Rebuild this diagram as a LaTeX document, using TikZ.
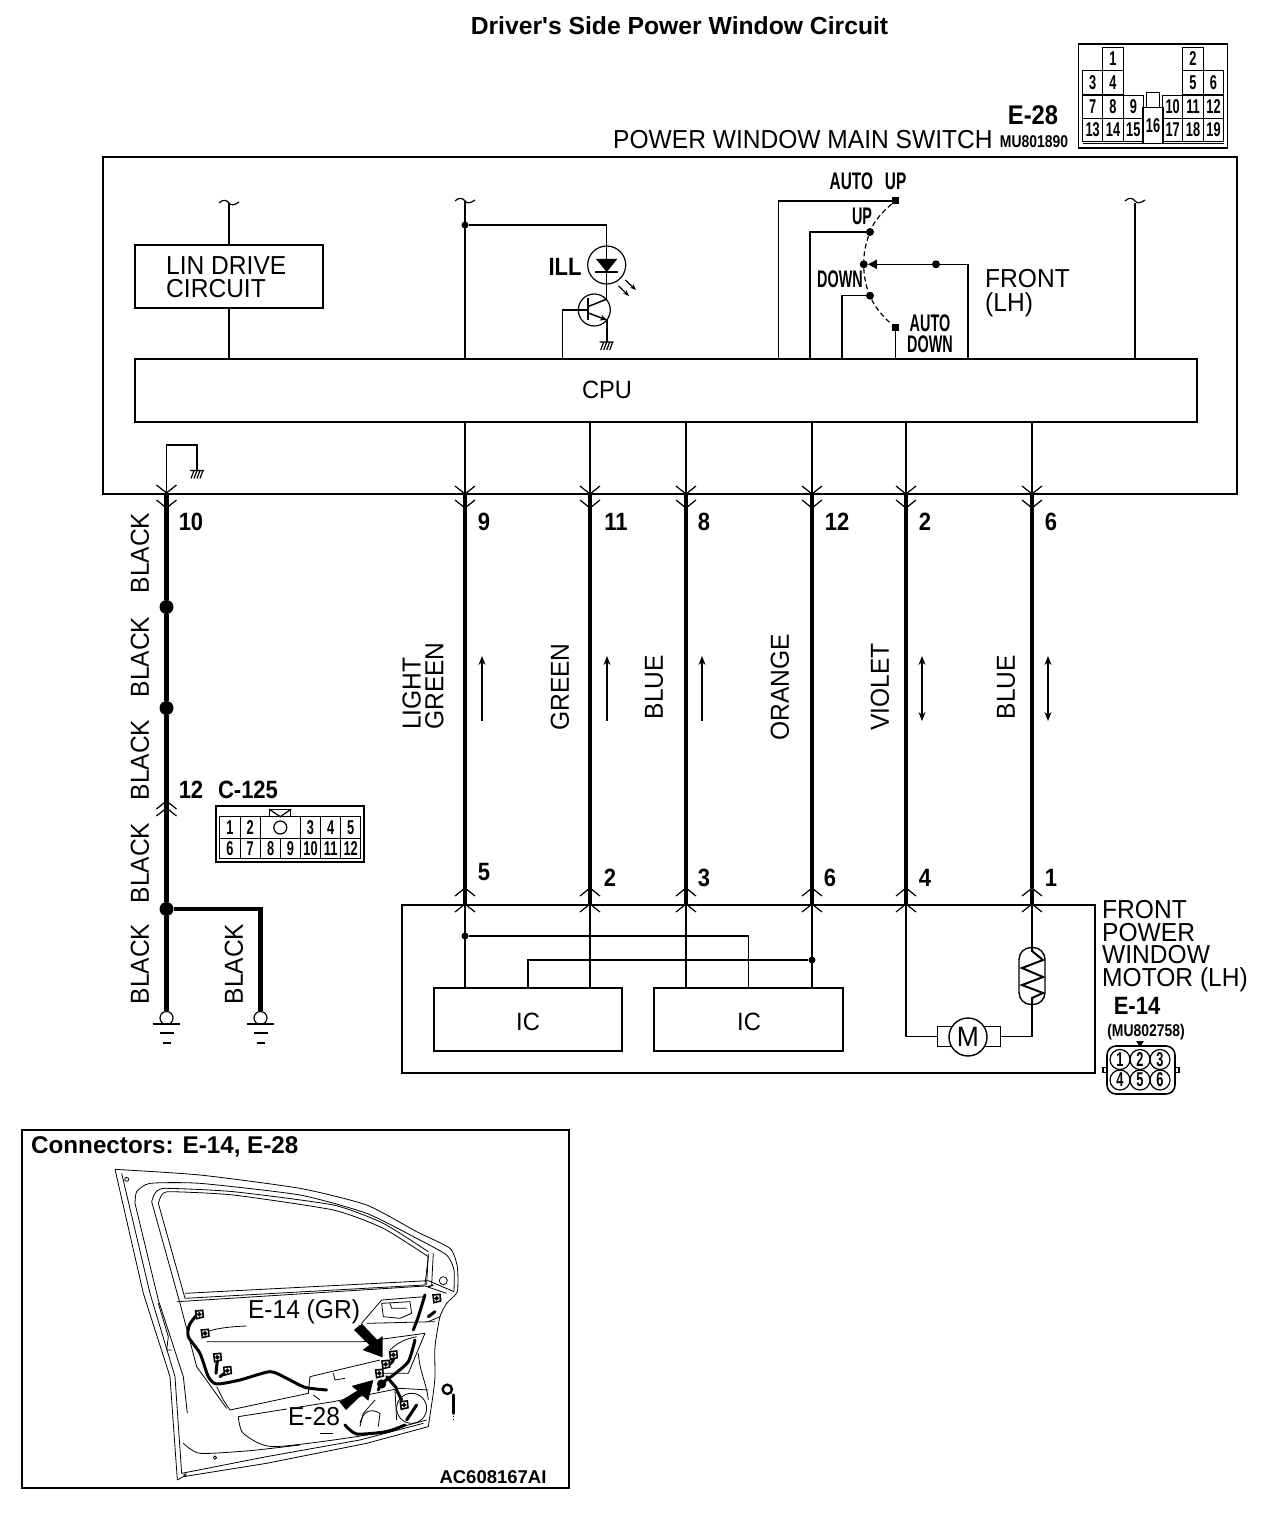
\documentclass[tikz,border=0pt]{standalone}
\usepackage{fontspec}
\usetikzlibrary{arrows.meta,calc}
\setmainfont[FakeStretch=.945]{Liberation Sans}
\newfontfamily\plainbold{Liberation Sans}
\newfontfamily\nb[FakeStretch=.88]{Liberation Sans}
\newfontfamily\nc[FakeStretch=.64]{Liberation Sans}
\newfontfamily\narrowctl[FakeStretch=.6]{Liberation Sans}
\newfontfamily\nd[FakeStretch=.82]{Liberation Sans}
\newcommand{\sz}[1]{\fontsize{#1}{#1}\selectfont}
\tikzset{
 x=1pt,y=-1pt,
 wire/.style={line width=1.5pt},
 hair/.style={line width=1.2pt},
 boxline/.style={line width=2pt},
 heavy/.style={line width=4.6pt},
 box/.style={draw,line width=1.6pt,rectangle,inner sep=0pt},
 lab/.style={inner sep=0pt,font=\sz{26}},
 stack/.style={inner sep=0pt,align=left,font=\fontsize{26}{22.7}\selectfont},
 vlab/.style={lab,rotate=90},
 num/.style={inner sep=0pt,font=\nb\bfseries\sz{25}},
 ctl/.style={inner sep=0pt,font=\narrowctl\bfseries\sz{24}},
 dot/.style={circle,fill=black,inner sep=0pt,minimum size=#1},
 dot/.default=8pt,
 sq/.style={rectangle,fill=black,inner sep=0pt,minimum size=7pt},
 pin/.style={draw,line width=1.2pt,rectangle,inner sep=0pt,font=\nc\bfseries\sz{20}},
 spin/.style={draw,line width=1.2pt,circle,inner sep=0pt,minimum size=20pt,font=\nc\bfseries\sz{20}},
 door/.style={line width=.8pt,line join=round},
 harness/.style={line width=3pt,line cap=round,line join=round},
 updn/.style={line width=1.3pt,{Stealth[length=9pt,width=7pt]}-{Stealth[length=9pt,width=7pt]}},
 upa/.style={line width=1.3pt,-{Stealth[length=9pt,width=7pt]}},
}
\newcommand{\chevD}[2]{\draw[hair] (#1-10,#2-8) -- (#1,#2) -- (#1+10,#2-8);}
\newcommand{\chevU}[2]{\draw[hair] (#1-10,#2+8) -- (#1,#2) -- (#1+10,#2+8);}
\newcommand{\tildeat}[2]{\draw[hair] (#1-10,#2) .. controls (#1-6,#2-4) and (#1-2,#2-3) .. (#1,#2) .. controls (#1+2,#2+3) and (#1+6,#2+2) .. (#1+10,#2-1);}
\newcommand{\hatch}[2]{\draw[hair] (#1-7,#2) -- (#1+7,#2) (#1-3,#2) -- (#1-6,#2+8) (#1,#2) -- (#1-3,#2+8) (#1+3,#2) -- (#1,#2+8) (#1+6,#2) -- (#1+3,#2+8);}
\newcommand{\earth}[1]{\draw[wire] ($(#1)+(-13.5,6)$) -- ($(#1)+(13.5,6)$);
 \draw[boxline] ($(#1)+(-7,15)$) -- ($(#1)+(7,15)$) ($(#1)+(-4,25)$) -- ($(#1)+(4,25)$);}
\begin{document}
\begin{tikzpicture}
\useasboundingbox (0,0) rectangle (1280,1514);
\fill[white] (0,0) rectangle (1280,1514);

% ---------- titles
\node[inner sep=0pt,font=\plainbold\bfseries\sz{24.7}] (title) at (679.5,26) {Driver's Side Power Window Circuit};
\node[inner sep=0pt,font=\nb\bfseries\sz{27}] (e28) at (1033,115) {E-28};
\node[lab,anchor=west] (mainsw) at (613,140) {POWER WINDOW MAIN SWITCH};
\node[inner sep=0pt,font=\nd\bfseries\sz{17}] (mu1) at (1034,142) {MU801890};

% ---------- E-28 connector
\node[draw,line width=1.6pt,minimum width=149pt,minimum height=104pt,inner sep=0pt] (e28box) at (1152.8,96.3) {};
\foreach \t/\x/\y in {1/1113/59,2/1193/59,3/1092.7/82.5,4/1113/82.5,5/1193/82.5,6/1213.5/82.5,
  7/1092.7/107,8/1113/107,9/1133.3/107,10/1172.7/107,11/1193/107,12/1213.5/107,
  13/1092.7/130,14/1113/130,15/1133.3/130,17/1172.7/130,18/1193/130,19/1213.5/130}
  \node[pin,minimum width=20.3pt,minimum height=23.5pt] (ep\t) at (\x,\y) {\t};
\node[pin,minimum width=20pt,minimum height=36pt] (ep16) at (1153,125.5) {16};
\node[draw,line width=1.1pt,minimum width=13pt,minimum height=15pt,inner sep=0pt] (epkey) at (1153,100) {};
\draw[hair] (1082.5,143.5) -- (1224,143.5);

% ---------- main box
\node[draw,line width=2pt,minimum width=1134pt,minimum height=337pt,inner sep=0pt] (mainbox) at (670,325.5) {};
\node[box,minimum width=1062pt,minimum height=63pt] (cpu) at (666,390.5) {};
\node[lab,font=\sz{25}] (cpulab) at (607,390) {CPU};
\node[box,minimum width=188pt,minimum height=63pt] (lin) at (229,276.5) {};
\node[stack,anchor=west] (linlab) at (166,277) {LIN DRIVE\\CIRCUIT};

% internal feeds with breaks
\coordinate (f229) at (229,203);
\coordinate (f465) at (465,201);
\coordinate (f1135) at (1135,203);
\tildeat{229}{203}\tildeat{465}{201}\tildeat{1135}{201}
\draw[hair] (f229) -- (lin.north);
\draw[wire] (lin.south) -- (229,359);
\draw[wire] (f465) -- (f465 |- cpu.north);
\draw[hair] (f1135) -- (f1135 |- cpu.north);

% ILL lamp + transistor
\node[dot=7pt] (j465) at (465,225) {};
\node[draw,line width=1.2pt,circle,minimum size=38pt,inner sep=0pt] (led) at (606.7,265) {};
\node[draw,line width=1.2pt,circle,minimum size=32pt,inner sep=0pt] (tr) at (594.3,310) {};
\node[lab,font=\nb\bfseries\sz{25}] (ill) at (565,267) {ILL};
\draw[wire] (j465) -| (led.north);
\draw[wire] (led.north) -- (606.7,299);
\fill (596,259) -- (617.3,259) -- (606.7,272) -- cycle;
\draw[wire] (595,272) -- (618,272);
\draw[line width=2pt] (588.3,298) -- (588.3,320);
\coordinate (bas) at (588.3,310);
\coordinate (tcpu) at (562.3,359);
\draw[wire] (bas) -| (tcpu);
\draw[wire] (588.3,306.5) -- (607,299);
\draw[wire,-{Stealth[length=7pt,width=6pt]}] (588.3,313) -- (607,320);
\draw[wire] (607,320) -- (607,342);
\hatch{606.7}{342}
\draw[hair,-{Stealth[length=6pt,width=4.5pt]}] (618.3,285.7) -- (629,296);
\draw[hair,-{Stealth[length=6pt,width=4.5pt]}] (625.3,280) -- (636,290);

% Switch
\node[inner sep=0pt,font=\nc\bfseries\sz{24}] (lautoup) at (868,181) {AUTO\,\,\,UP};
\node[ctl] (lup) at (862,216) {UP};
\node[ctl] (ldown) at (840,279) {DOWN};
\node[ctl] (lad1) at (930,323) {AUTO};
\node[ctl] (lad2) at (930,344) {DOWN};
\node[sq] (cAU) at (895.3,201) {};
\node[dot] (cUp) at (870,232) {};
\node[dot] (cCom) at (863.7,264.3) {};
\node[dot] (cDn) at (870,295.7) {};
\node[sq] (cAD) at (895.3,327) {};
\node[dot] (cMid) at (936,264.3) {};
\coordinate (sw1) at (778.5,359);
\coordinate (sw2) at (810,359);
\coordinate (sw3) at (842,359);
\coordinate (sw4) at (895.3,359);
\coordinate (sw5) at (968,359);
\draw[wire] (cAU) -| (sw1);
\draw[wire] (cUp) -| (sw2);
\draw[wire] (cDn) -| (sw3);
\draw[wire] (cAD) -- (sw4);
\draw[wire,-{Triangle[length=9pt,width=9pt]}] (sw5) |- (cCom);
\draw[hair,dash pattern=on 5pt off 3pt] (cAU) .. controls (882,212) and (874,222) .. (cUp) .. controls (866,243) and (864,252) .. (cCom) .. controls (864,276) and (866,286) .. (cDn) .. controls (875,307) and (884,318) .. (cAD);
\node[stack,anchor=west,font=\fontsize{26}{24}\selectfont] (frontlab) at (985,293) {FRONT\\(LH)};

% ---------- main harness pins
\foreach \n/\x in {a/465,b/590,c/686,d/812,e/906,f/1032}{
  \coordinate (t\n) at (\x,494);
  \coordinate (u\n) at (\x,905);
  \draw[heavy] (t\n) -- (u\n);
  \draw[wire] (t\n |- cpu.south) -- (t\n);
  \chevD{\x}{494}\chevD{\x}{508}
  \chevU{\x}{888}\chevU{\x}{904}
}
\foreach \t/\x/\y/\k in {9/484/522/a,11/616/522/b,8/704/522/c,12/837/522/d,2/925/522/e,6/1051/522/f,
  5/484/872/g,2/610/878/h,3/704/878/i,6/830/878/j,4/925/878/k,1/1051/878/l,10/191/522/m,12/191/790/n}
  \node[num] (n\k) at (\x,\y) {\t};

% wire colour labels
\node[stack,rotate=90,anchor=west] (wl1) at (423,730) {LIGHT\\GREEN};
\node[vlab] (wl3) at (560,687) {GREEN};
\node[vlab] (wl4) at (654,687) {BLUE};
\node[vlab] (wl5) at (780,687) {ORANGE};
\node[vlab] (wl6) at (880,687) {VIOLET};
\node[vlab] (wl7) at (1006,687) {BLUE};

% signal direction arrows
\coordinate (d1a) at (482,721); \coordinate (d1b) at (482,656);
\coordinate (d2a) at (607,721); \coordinate (d2b) at (607,656);
\coordinate (d3a) at (702,721); \coordinate (d3b) at (702,656);
\coordinate (d4a) at (922,721); \coordinate (d4b) at (922,656);
\coordinate (d5a) at (1048,721); \coordinate (d5b) at (1048,656);
\draw[upa] (d1a) -- (d1b);
\draw[upa] (d2a) -- (d2b);
\draw[upa] (d3a) -- (d3b);
\draw[updn] (d4a) -- (d4b);
\draw[updn] (d5a) -- (d5b);

% ---------- ground branch on the left
\coordinate (g0) at (166.5,494);
\coordinate (gtop) at (166.5,445);
\coordinate (ghat) at (197,470);
\draw[wire] (g0) -- (gtop) -| (ghat);
\hatch{197}{470.5}
\chevD{166.5}{493}\chevD{166.5}{508}
\node[dot=14pt] (s1) at (166.5,607) {};
\node[dot=14pt] (s2) at (166.5,708) {};
\node[dot=14pt] (s3) at (166.5,909) {};
\node[draw,line width=1.2pt,circle,fill=white,minimum size=13pt,inner sep=0pt] (gc1) at (166.5,1018) {};
\node[draw,line width=1.2pt,circle,fill=white,minimum size=13pt,inner sep=0pt] (gc2) at (260.5,1018) {};
\draw[heavy] (g0) -- (s1);
\draw[heavy] (s1) -- (s2);
\draw[heavy] (s2) -- (s3);
\draw[heavy] (s3) -- (gc1);
\draw[heavy,line join=miter] (s3) -| (gc2);
\earth{gc1}\earth{gc2}
\foreach \k/\y in {1/553,2/657,3/760,4/863,5/964}
  \node[vlab] (bk\k) at (140,\y) {BLACK};
\node[vlab] (bk6) at (234,964) {BLACK};
\chevU{166.5}{801}\chevU{166.5}{808}

% C-125
\node[inner sep=0pt,font=\nb\bfseries\sz{25}] (c125) at (248,790) {C-125};
\node[draw,line width=1.8pt,minimum width=148.5pt,minimum height=56.5pt,inner sep=0pt] (cbox) at (290,834) {};
\foreach \t/\x in {1/230,2/250.3,3/310.5,4/330.7,5/350.7}
  \node[pin,minimum width=20.3pt,minimum height=21.6pt] (cp\t) at (\x,827.5) {\t};
\foreach \t/\x in {6/230,7/250.3,8/270.7,9/290.5,10/310.5,11/330.7,12/350.7}
  \node[pin,minimum width=20.3pt,minimum height=20pt] (cq\t) at (\x,848.3) {\t};
\node[draw,line width=1.2pt,minimum width=40pt,minimum height=21.6pt,inner sep=0pt] (cmid) at (280.5,827.5) {};
\node[draw,line width=1.2pt,circle,minimum size=13pt,inner sep=0pt] (chole) at (280.3,827.5) {};
\node[draw,line width=1.2pt,minimum width=21pt,minimum height=7pt,inner sep=0pt] (ctab) at (280.2,813.2) {};
\draw[hair] (ctab.north west) -- (280.2,816.7) -- (ctab.north east);

% ---------- motor box
\node[draw,line width=1.6pt,minimum width=693pt,minimum height=168pt,inner sep=0pt] (mbox) at (748.5,989) {};
\node[box,minimum width=188pt,minimum height=63pt] (ic1) at (528,1019.5) {};
\node[box,minimum width=189pt,minimum height=63pt] (ic2) at (748.5,1019.5) {};
\node[lab,font=\sz{25}] (ic1l) at (528,1022) {IC};
\node[lab,font=\sz{25}] (ic2l) at (749,1022) {IC};
\foreach \n in {a,b}{\draw[wire] (u\n) -- (u\n |- ic1.north);}
\foreach \n in {c,d}{\draw[wire] (u\n) -- (u\n |- ic2.north);}
\node[dot=7pt] (j1) at (465,936) {};
\node[dot=7pt] (j2) at (812,960) {};
\draw[wire] (j1) -| (ic2.north);
\draw[wire] (j2) -| (ic1.north);

% motor and resistor
\node[draw,line width=1.4pt,minimum width=63pt,minimum height=20pt,inner sep=0pt] (mbody) at (969.2,1036.7) {};
\node[draw,line width=1.4pt,circle,fill=white,minimum size=38pt,inner sep=0pt,font=\sz{28}] (motor) at (968,1037) {M};
\draw[line width=1.4pt,rounded corners=12pt] (1019,947.5) rectangle (1045,1004.5);
\coordinate (rtop) at (1032,948);
\coordinate (rbot) at (1032,1004);
\draw[wire] (ue) |- (mbody.west);
\draw[wire] (mbody.east) -| (rbot);
\draw[wire] (uf) -- (rtop);
\draw[line width=2pt,line join=miter] (rtop) -- (1032,951) -- (1043,960) -- (1022,968) -- (1043,977) -- (1022,985) -- (1043,993) -- (1032,998) -- (rbot);

% motor labels
\node[stack,anchor=west] (mlab) at (1102,946) {FRONT\\POWER\\WINDOW\\MOTOR (LH)};
\node[inner sep=0pt,font=\nb\bfseries\sz{25}] (e14) at (1137,1006) {E-14};
\node[inner sep=0pt,font=\nd\bfseries\sz{17}] (mu2) at (1146,1032) {(MU802758)};

% E-14 connector
\fill (1136,1041) -- (1144,1041) -- (1140,1047) -- cycle;
\draw[line width=1.2pt] (1103,1067.5) rectangle (1179,1072.5);
\node[draw,line width=1.6pt,fill=white,rounded corners=9pt,minimum width=68pt,minimum height=48pt,inner sep=0pt] (e14box) at (1141,1070) {};
\foreach \t/\x/\y in {1/1120/1059.5,2/1140/1059.5,3/1160/1059.5,4/1120/1080,5/1140/1080,6/1160/1080}
  \node[spin] (mp\t) at (\x,\y) {\t};

% ---------- door panel
\node[draw,line width=2pt,minimum width=547pt,minimum height=358pt,inner sep=0pt] (panel) at (295.5,1309) {};
\node[inner sep=0pt,anchor=west,font=\plainbold\bfseries\sz{24.2}] (ptitle) at (31,1147) {Connectors: E-14, E-28};
\node[inner sep=0pt,font=\plainbold\bfseries\sz{18.5}] (acn) at (493,1477) {AC608167AI};

\begin{scope}[shift={(100,1160)},x=.3333pt,y=-.3333pt]
 \draw[door] plot[smooth,tension=.35] coordinates {(45,28) (300,45) (600,85) (800,135) (950,215) (1050,265) (1072,320) (1072,395) (1040,430) (1020,470) (1005,560) (1005,650) (1000,700)};
 \draw[door] (1000,700) -- (985,800) -- (800,850) -- (500,910) -- (250,950) -- (232,960);
 \draw[door] plot[smooth,tension=.35] coordinates {(105,130) (110,95) (150,70) (300,70) (600,105) (800,160) (950,235) (1040,285) (1062,330) (1062,395)};
 \draw[door] plot[smooth,tension=.35] coordinates {(155,125) (165,100) (195,85) (400,95) (700,135) (850,190) (985,275)};
 \draw[door] plot[smooth,tension=.35] coordinates {(175,130) (185,105) (210,95) (400,105) (700,150) (850,205) (985,290)};
 \draw[door] (985,290) -- (975,375) -- (255,415) -- (175,130);
 \draw[door] (45,28) -- (130,400) -- (210,650) -- (232,960);
 \draw[door] (65,40) -- (150,400) -- (225,650) -- (245,940);
 \draw[door] (105,130) -- (175,420) -- (250,650) -- (262,760);
 \draw[door] (155,125) -- (240,430) -- (290,620) -- (380,745);
 \draw[door] (245,940) -- (500,890) -- (780,840) -- (970,790);
 \draw[door] plot[smooth,tension=.4] coordinates {(250,850) (300,880) (450,872) (600,855)};
 \draw[door] plot[smooth,tension=.4] coordinates {(415,770) (430,820) (520,860) (800,825) (980,780)};
 \draw[door] (232,425) -- (975,378) -- (1040,400);
 \draw[door] (255,400) -- (985,362) -- (1062,395);
 \draw[door] (320,545) -- (790,545) -- (975,520) -- (925,640) -- (850,640);
 \draw[door] (310,520) .. controls (340,505) and (390,500) .. (440,498);
 \draw[door] (630,650) -- (625,700) -- (390,750) -- (370,720) -- (350,680);
 \draw[door] (630,650) -- (840,600);
 \draw[door] (415,770) -- (700,725) -- (825,700) -- (900,685) -- (985,690);
 \draw[door] (845,430) -- (930,425) -- (935,460) -- (900,475) -- (850,470) -- cycle;
 \draw[door] (870,430) -- (875,445) -- (920,445);
 \draw[door] (785,490) -- (845,420) -- (975,410);
 \draw[door] (800,490) -- (1005,485);
 \draw[door] (1020,470) -- (985,485);
 \draw[door] (935,745) circle[radius=45];
 \draw[door] (825,720) -- (790,760) -- (780,800);
 \draw[door] (780,790) .. controls (790,750) and (815,745) .. (840,760) -- (835,800);
 \draw[door] (885,690) -- (890,780);
 \draw[door] (955,580) .. controls (960,640) and (980,670) .. (985,720);
 \draw[door] (870,570) .. controls (900,540) and (930,535) .. (950,530);
 \draw[door] (985,280) -- (980,375);
 \draw[door] (1000,280) -- (995,375);
 \draw[door] (1030,362) circle[radius=12];
 \draw[door] (660,820) -- (700,820);
 \draw[door] (700,640) -- (705,660) -- (735,655);
 \draw[door] (640,705) -- (660,720);
 \draw[door] (80,58) circle[radius=6];
 \draw[door] (345,893) circle[radius=5];
 \draw[door] (255,945) circle[radius=4];
 \draw[door] (175,430) -- (205,530) -- (200,570) -- (215,570);
 % harness
 \draw[harness] plot[smooth,tension=.4] coordinates {(290,465) (268,495) (265,530) (300,580) (325,650) (350,672) (420,660) (510,635) (560,655) (615,682) (680,690)};
 \draw[harness] (360,650) -- (385,632);
 \draw[harness] (352,600) -- (348,640);
 \draw[harness] plot[smooth,tension=.4] coordinates {(975,405) (955,470) (940,510)};
 \draw[harness] plot[smooth,tension=.4] coordinates {(945,540) (925,605) (880,645) (845,670) (835,690)};
 \draw[harness] (860,650) -- (890,685);
 \draw[harness] plot[smooth,tension=.4] coordinates {(735,795) (770,822) (860,815) (915,795)};
 \draw[harness] (920,780) -- (950,735);
 \draw[harness] (890,690) -- (905,720);
 \draw[harness] (1060,705) -- (1060,760);
 \draw[harness] (985,470) -- (1005,455);
 \draw[harness] (880,580) .. controls (890,600) and (870,615) .. (855,620);
 \draw[door] (1058,770) -- (1062,770) (1058,778) -- (1062,778);
 % clips
 \foreach \x/\y in {298/463,315/520,352/592,382/632,880/585,857/613,912/735,1010/415,838/640}
  \draw[line width=1.6pt,fill=white] (\x-11,\y-10) -- (\x+10,\y-12) -- (\x+12,\y+8) -- (\x-8,\y+13) -- cycle (\x,\y) circle[radius=4];
 \draw[line width=2.4pt,fill=white] (1042,688) circle[radius=14];
 \draw[line width=1.4pt] (1000,375) -- (985,380);
 \fill (845,672) circle[radius=14];
 % big arrows
 \fill (762,510) -- (785,490) -- (832,540) -- (848,528) -- (848,592) -- (788,570) -- (808,555) -- cycle;
 \fill (718,725) -- (738,750) -- (785,705) -- (805,722) -- (820,660) -- (755,678) -- (772,692) -- cycle;
\end{scope}
\node[inner sep=1pt,fill=white,font=\sz{26}] (e14gr) at (304,1312) {E-14 (GR)};
\node[inner sep=1pt,fill=white,font=\sz{26}] (e28gr) at (314,1417) {E-28};
\end{tikzpicture}
\end{document}
